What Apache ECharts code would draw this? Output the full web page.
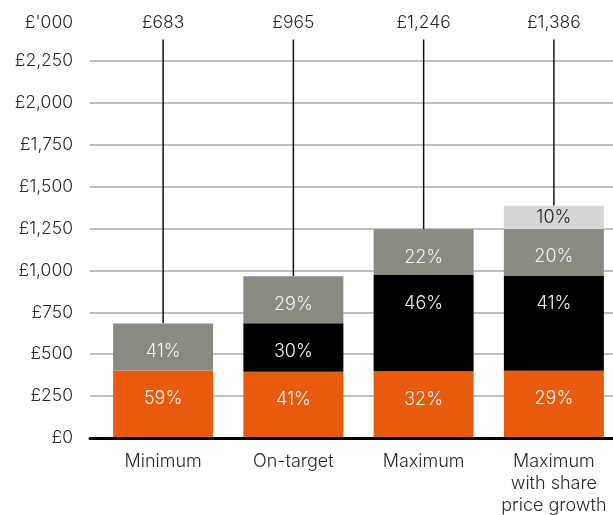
<!DOCTYPE html>
<html>
<head>
<meta charset="utf-8">
<script src="https://cdn.jsdelivr.net/npm/echarts@6/dist/echarts.min.js"></script>
<style>
  html, body { margin: 0; padding: 0; background: #fff; }
  #chart { width: 613px; height: 515px; }
</style>
</head>
<body>
<div id="chart"></div>
<script>
// Remuneration scenarios (£'000) and the share of each element
const categories = ['Minimum', 'On-target', 'Maximum', 'Maximum\nwith share\nprice growth'];
const totals = [683, 965, 1246, 1386];
const fixedPct = [59, 41, 32, 29];
const bonusPct = [0, 30, 46, 41];
const ltipPct = [41, 29, 22, 20];
const growthPct = [0, 0, 0, 10];
const yMin = 0;
const yMax = 2500;
const yStep = 250;

const FONT = 'Inter, "Noto Sans", sans-serif';
const TEXT = '#2a2a2a';
const fmtMoney = v => '£' + Math.round(v).toLocaleString('en-GB');

function segment(pcts) {
  return pcts.map((p, i) => p ? { value: totals[i] * p / 100, pct: p } : { value: 0, pct: 0 });
}

function barSeries(name, pcts, color, labelColor, position) {
  return {
    name: name,
    type: 'bar',
    stack: 'pay',
    xAxisIndex: 1,
    yAxisIndex: 1,
    barWidth: 100,
    data: segment(pcts),
    itemStyle: { color: color },
    label: {
      show: true,
      position: position,
      distance: 19,
      color: labelColor,
      fontFamily: FONT,
      fontSize: 18,
      fontWeight: 300,
      formatter: p => p.data.pct ? p.data.pct + '%' : ''
    },
    z: 3
  };
}

const chart = echarts.init(document.getElementById('chart'), null, { renderer: 'canvas' });

chart.setOption({
  animation: false,
  backgroundColor: '#fff',
  grid: [
    { left: 90, right: 0, top: 19, bottom: 77, outerBoundsMode: 'none' },
    { left: 98, width: 521, top: 19, bottom: 77, outerBoundsMode: 'none' }
  ],
  xAxis: [
    {
      type: 'category',
      gridIndex: 0,
      data: categories,
      axisLine: { show: true, lineStyle: { color: '#000', width: 3 } },
      axisTick: { show: false },
      axisLabel: { show: false },
      z: 5
    },
    {
      type: 'category',
      gridIndex: 1,
      data: categories,
      axisLine: { show: false },
      axisTick: { show: false },
      axisLabel: {
        interval: 0,
        hideOverlap: false,
        margin: 13,
        color: TEXT,
        fontFamily: FONT,
        fontSize: 18,
        fontWeight: 300,
        lineHeight: 21.7
      }
    }
  ],
  yAxis: [
    {
      type: 'value',
      gridIndex: 0,
      min: yMin,
      max: yMax,
      interval: yStep,
      axisLine: { show: false },
      axisTick: { show: false },
      axisLabel: {
        margin: 17,
        color: TEXT,
        fontFamily: FONT,
        fontSize: 17.5,
        fontWeight: 300,
        formatter: v => v === yMax ? "{unit|£'000}" : fmtMoney(v),
        rich: {
          unit: {
            color: TEXT,
            fontFamily: FONT,
            fontSize: 17.5,
            fontWeight: 300,
            padding: [8, 0, 0, 0]
          }
        }
      },
      splitLine: {
        show: true,
        showMaxLine: false,
        lineStyle: { color: '#aaaaaa', width: 1.5 }
      }
    },
    {
      type: 'value',
      gridIndex: 1,
      min: yMin,
      max: yMax,
      interval: yStep,
      show: false,
      splitLine: { show: false }
    }
  ],
  series: [
    barSeries('Fixed pay', fixedPct, '#e85b0f', '#f3f3f3', 'insideTop'),
    barSeries('Annual bonus', bonusPct, '#000000', '#f3f3f3', 'insideTop'),
    barSeries('LTIP', ltipPct, '#8a8a82', '#f3f3f3', 'insideTop'),
    barSeries('Share price growth', growthPct, '#d6d6d4', '#222222', 'inside'),
    {
      // leader line from each bar's top up to its total label
      type: 'custom',
      xAxisIndex: 1,
      yAxisIndex: 1,
      clip: false,
      z: 2,
      data: totals.map((t, i) => [i, t]),
      renderItem: function (params, api) {
        const i = api.value(0);
        const t = api.value(1);
        const base = api.coord([i, t]);
        const top = api.coord([i, yMax]);
        return {
          type: 'group',
          children: [
            {
              type: 'line',
              shape: { x1: base[0], y1: base[1], x2: base[0], y2: top[1] + 20.5 },
              style: { stroke: '#111', lineWidth: 1.5 }
            },
            {
              type: 'text',
              x: base[0],
              y: top[1] + 4,
              style: {
                text: fmtMoney(t),
                fill: TEXT,
                font: '300 17.5px ' + FONT,
                align: 'center',
                verticalAlign: 'middle'
              }
            }
          ]
        };
      }
    }
  ]
});
</script>
</body>
</html>
